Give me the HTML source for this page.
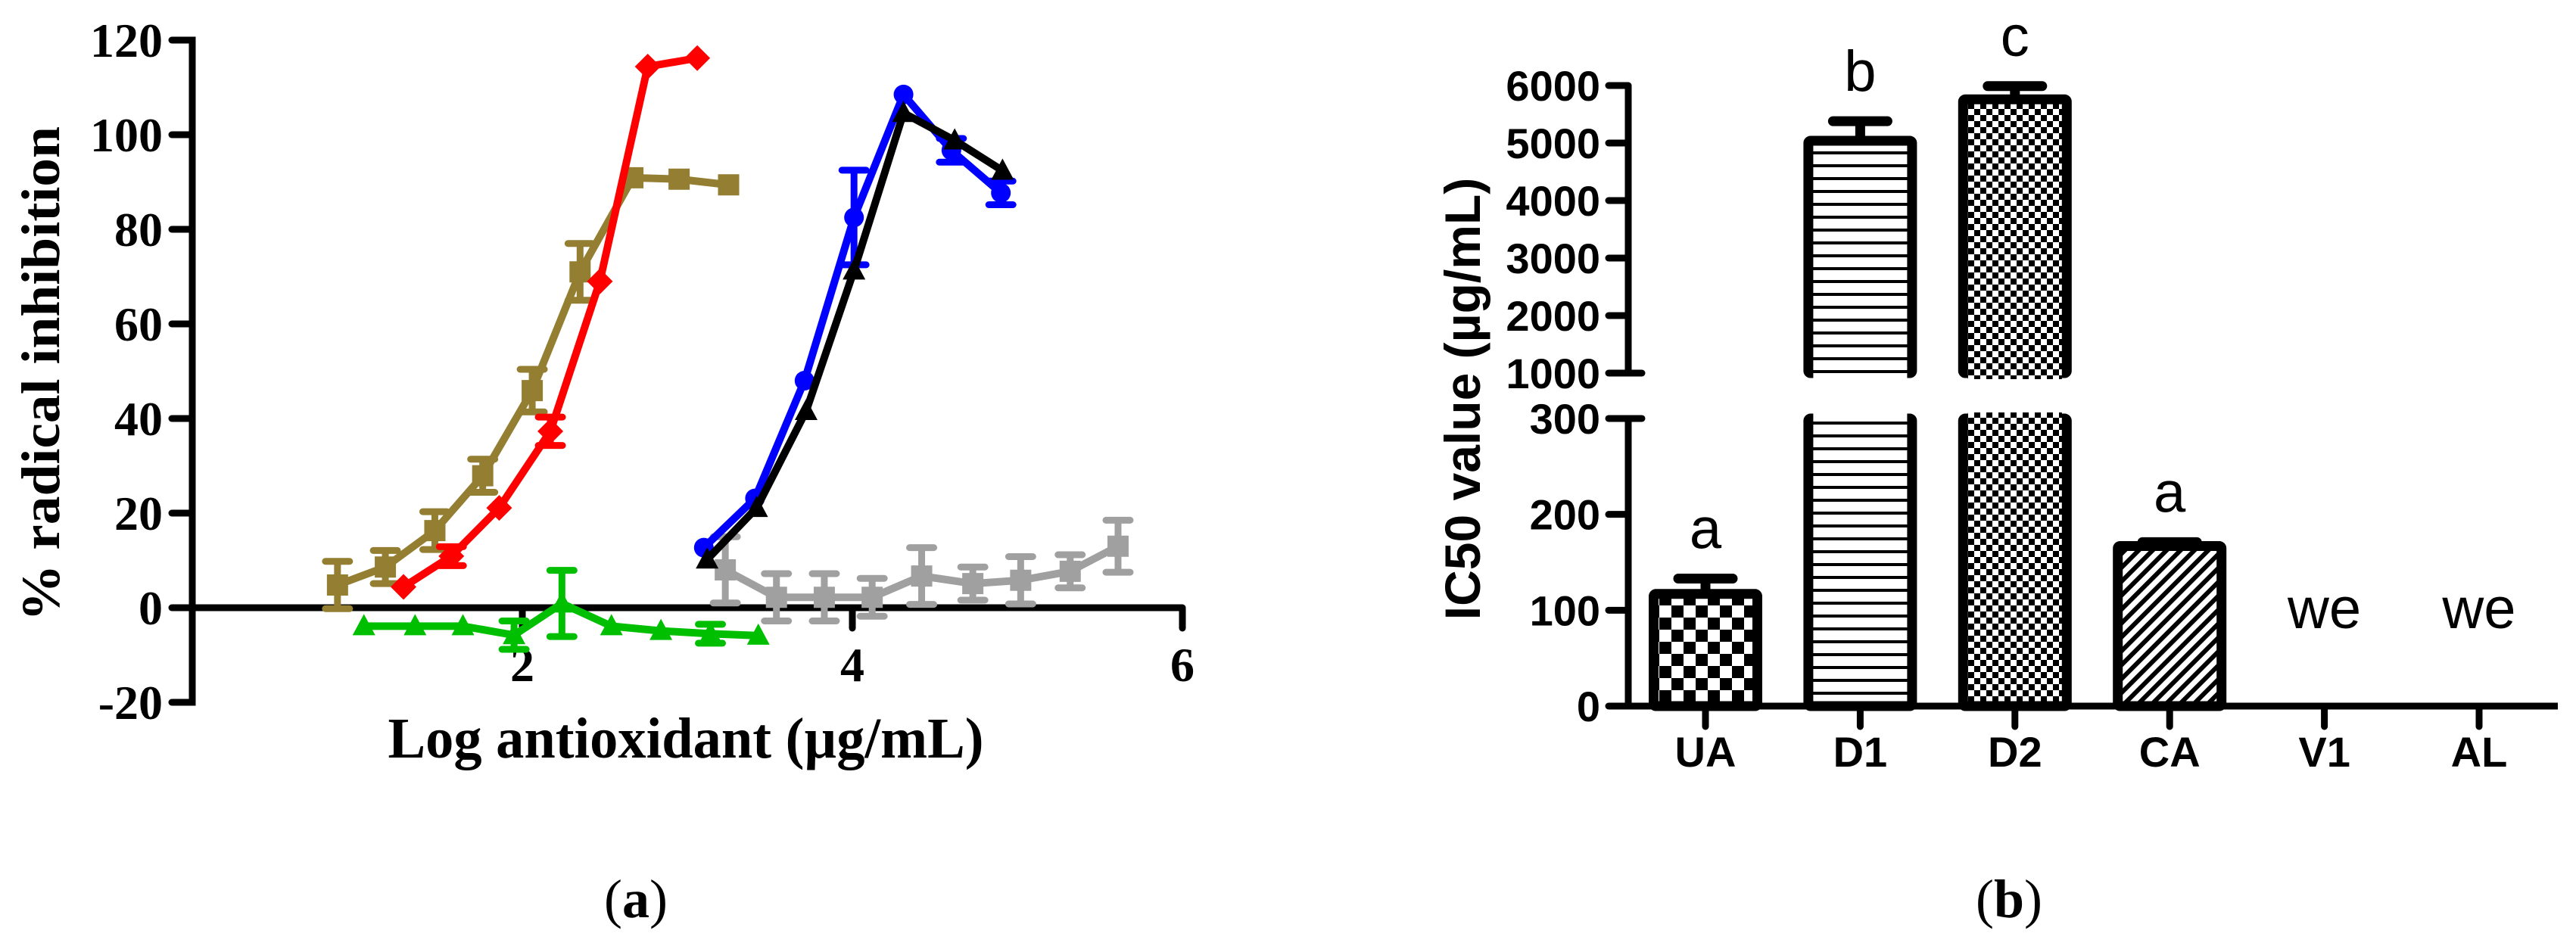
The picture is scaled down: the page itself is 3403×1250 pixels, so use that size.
<!DOCTYPE html>
<html><head><meta charset="utf-8"><style>
html,body{margin:0;padding:0;background:#fff;}
svg{display:block;}
</style></head><body>
<svg id="fig" width="3403" height="1250" viewBox="0 0 3403 1250" xmlns="http://www.w3.org/2000/svg">
<defs>
<pattern id="pChecker" width="32" height="32" patternUnits="userSpaceOnUse"><rect width="32" height="32" fill="#fff"/><rect width="16" height="16" fill="#000"/><rect x="16" y="16" width="16" height="16" fill="#000"/></pattern>
<pattern id="pLines" width="17" height="17" patternUnits="userSpaceOnUse"><rect width="17" height="17" fill="#fff"/><rect y="13" width="17" height="4" fill="#000"/></pattern>
<pattern id="pFine" width="16" height="16" patternUnits="userSpaceOnUse"><rect width="16" height="16" fill="#fff"/><rect width="8" height="8" fill="#000"/><rect x="8" y="8" width="8" height="8" fill="#000"/></pattern>
<pattern id="pDiag" width="13" height="13" patternUnits="userSpaceOnUse" patternTransform="rotate(45)"><rect width="13" height="13" fill="#fff"/><rect width="6" height="13" fill="#000"/></pattern>
</defs>
<g id="left"></g>
<g id="right"></g>
</svg>
<script>
// ---------- Left chart data ----------
const xTicksA = [2, 4, 6];
const yTicksA = [120, 100, 80, 60, 40, 20, 0, -20];
const brownX = [0.88, 1.17, 1.47, 1.76, 2.06, 2.35, 2.67, 2.95, 3.25];
const brownY = [4.8, 8.6, 16.3, 27.9, 45.9, 71, 90.9, 90.6, 89.4];
const brownE = [5, 3.5, 4, 3.5, 4.5, 6, 0, 0, 0];
const redX = [1.28, 1.57, 1.86, 2.17, 2.47, 2.76, 3.06];
const redY = [4.4, 10.9, 21.1, 37.3, 69, 114.4, 116.2];
const redE = [0, 2, 0, 3, 0, 0, 0];
const greenX = [1.04, 1.35, 1.64, 1.95, 2.24, 2.54, 2.84, 3.14, 3.43];
const greenY = [-3.9, -3.9, -3.9, -5.8, 0.9, -3.9, -4.9, -5.5, -5.9];
const greenE = [0, 0, 0, 3, 7, 0, 0, 2, 0];
const blueX = [3.10, 3.41, 3.71, 4.01, 4.31, 4.60, 4.90];
const blueY = [12.7, 23.1, 48, 82.5, 108.5, 96.7, 87.7];
const blueE = [0, 0, 0, 10, 0, 2.5, 2.5];
const blackX = [3.12, 3.42, 3.72, 4.01, 4.31, 4.62, 4.91];
const blackY = [10.2, 21.1, 41.6, 71.3, 104.6, 98.8, 92.4];
const blackE = [0, 0, 0, 0, 0, 0, 0];
const greyX = [3.23, 3.54, 3.83, 4.12, 4.42, 4.73, 5.02, 5.32, 5.61];
const greyY = [8, 2.2, 2.2, 2.2, 6.7, 5.1, 5.8, 7.7, 13];
const greyE = [7, 5, 5, 4, 6, 3.5, 5, 3.5, 5.5];

// ---------- Right chart data ----------
const cats = ["UA", "D1", "D2", "CA", "V1", "AL"];
const ic50 = [117, 5040, 5760, 167, 0, 0];
const ic50Err = [16, 340, 230, 4, 0, 0];
const sigLetters = ["a", "b", "c", "a", "we", "we"];
const lowTicks = [0, 100, 200, 300];
const highTicks = [1000, 2000, 3000, 4000, 5000, 6000];

const NS = "http://www.w3.org/2000/svg";
function mk(parent, tag, attrs, text) {
  const e = document.createElementNS(NS, tag);
  for (const k in attrs) e.setAttribute(k, attrs[k]);
  if (text !== undefined) e.textContent = text;
  parent.appendChild(e);
  return e;
}

// ---------- Left chart ----------
const L = document.getElementById('left');
const xA = v => 254 + 218 * v;
const yA = v => 803 - 6.25 * v;
const serif = '"Liberation Serif", serif';

let ax = mk(L, 'line', {x1: xA(0), y1: yA(120), x2: xA(0), y2: yA(-20), stroke: '#000', 'stroke-width': 9, 'stroke-linecap': 'square'});


ax = mk(L, 'line', {x1: xA(0), y1: yA(0), x2: xA(6), y2: yA(0), stroke: '#000', 'stroke-width': 9});



yTicksA.forEach(t => {
  const tk = mk(L, 'line', {x1: xA(0) - 27, y1: yA(t), x2: xA(0), y2: yA(t), stroke: '#000', 'stroke-width': 9, 'stroke-linecap': 'round'});
  
  
  const lb = mk(L, 'text', {x: 215, y: yA(t) + 22, 'text-anchor': 'end', 'font-family': serif, 'font-weight': 'bold', 'font-size': 64}, String(t));
  
  
});
xTicksA.forEach(t => {
  const tk = mk(L, 'line', {x1: xA(t), y1: yA(0), x2: xA(t), y2: yA(0) + 27, stroke: '#000', 'stroke-width': 9, 'stroke-linecap': 'round'});
  
  
  const lb = mk(L, 'text', {x: xA(t), y: 900, 'text-anchor': 'middle', 'font-family': serif, 'font-weight': 'bold', 'font-size': 64}, String(t));
  
  
});
let tt = mk(L, 'text', {x: 906, y: 1001, 'text-anchor': 'middle', 'font-family': serif, 'font-weight': 'bold', 'font-size': 76, textLength: 787, lengthAdjust: 'spacingAndGlyphs'}, 'Log antioxidant (\u00B5g/mL)');


tt = mk(L, 'text', {x: 0, y: 0, transform: 'translate(78,494) rotate(-90)', 'text-anchor': 'middle', 'font-family': serif, 'font-weight': 'bold', 'font-size': 72, textLength: 654, lengthAdjust: 'spacingAndGlyphs'}, '% radical inhibition');


tt = mk(L, 'text', {x: 840, y: 1212, 'text-anchor': 'middle', 'font-family': serif, 'font-size': 72});


mk(tt, 'tspan', {}, '(');
mk(tt, 'tspan', {'font-weight': 'bold'}, 'a');
mk(tt, 'tspan', {}, ')');

function marker(g, shape, cx, cy, color) {
  let m;
  if (shape === 'square') m = mk(g, 'rect', {x: cx - 14, y: cy - 14, width: 28, height: 28, fill: color});
  else if (shape === 'diamond') m = mk(g, 'polygon', {points: `${cx},${cy-17} ${cx+17},${cy} ${cx},${cy+17} ${cx-17},${cy}`, fill: color});
  else if (shape === 'triangle') m = mk(g, 'polygon', {points: `${cx},${cy-16} ${cx+15},${cy+12} ${cx-15},${cy+12}`, fill: color});
  else m = mk(g, 'circle', {cx: cx, cy: cy, r: 13, fill: color});
  return m;
}
function series(name, xs, ys, es, color, shape) {
  const g = mk(L, 'g', {});
  
  
  const pts = xs.map((x, i) => xA(x) + ',' + yA(ys[i])).join(' ');
  const ln = mk(g, 'polyline', {points: pts, fill: 'none', stroke: color, 'stroke-width': 10, 'stroke-linejoin': 'round'});
  
  
  xs.forEach((x, i) => {
    if (es[i] > 0) {
      const cx = xA(x), y1 = yA(ys[i] + es[i]), y2 = yA(ys[i] - es[i]);
      const eb = mk(g, 'path', {d: `M${cx},${y1}V${y2}M${cx-16},${y1}H${cx+16}M${cx-16},${y2}H${cx+16}`, stroke: color, 'stroke-width': 9, 'stroke-linecap': 'round', fill: 'none'});
      
      
    }
    const m = marker(g, shape, xA(x), yA(ys[i]), color);
    
    
  });
}
series('brown', brownX, brownY, brownE, '#947E32', 'square');
series('green', greenX, greenY, greenE, '#00BF00', 'triangle');
series('grey', greyX, greyY, greyE, '#A0A0A0', 'square');
series('red', redX, redY, redE, '#FF0000', 'diamond');
series('blue', blueX, blueY, blueE, '#0000FF', 'circle');
series('black', blackX, blackY, blackE, '#000000', 'triangle');

// ---------- Right chart ----------
const R = document.getElementById('right');
const sans = '"Liberation Sans", sans-serif';
const axX = 2151;
const xB = i => 2253 + 204.4 * i;
const yLow = v => 933 - 1.2667 * v;          // 0..300
const yHigh = v => 493 - 0.076 * (v - 1000);  // 1000..6000
const yVal = v => v <= 300 ? yLow(v) : yHigh(v);
const fills = ['url(#pChecker)', 'url(#pLines)', 'url(#pFine)', 'url(#pDiag)', '#fff', '#fff'];
const bw = 150;

cats.forEach((c, i) => {
  const v = ic50[i];
  if (v <= 0) return;
  const g = mk(R, 'g', {});
  
  
  const cx = xB(i);
  const e = ic50Err[i];
  const eTop = yVal(v + e);
  const eb = mk(g, 'path', {d: `M${cx},${yVal(v)}V${eTop}M${cx-36},${eTop}H${cx+36}`, stroke: '#000', 'stroke-width': 13, 'stroke-linecap': 'round', fill: 'none'});
  
  
  if (v <= 300) {
    mk(g, 'rect', {x: cx - bw/2 + 6.5, y: yVal(v), width: bw - 13, height: yLow(0) - yVal(v), fill: fills[i], stroke: '#000', 'stroke-width': 13, rx: 3});
  } else {
    mk(g, 'rect', {x: cx - bw/2 + 6.5, y: yHigh(v), width: bw - 13, height: yHigh(1000) - yHigh(v), fill: fills[i], stroke: '#000', 'stroke-width': 13, rx: 3});
    mk(g, 'rect', {x: cx - bw/2 + 6.5, y: yLow(300), width: bw - 13, height: yLow(0) - yLow(300), fill: fills[i], stroke: '#000', 'stroke-width': 13, rx: 3});
    mk(g, 'rect', {x: cx - bw/2 + 13, y: yHigh(1000) - 8, width: bw - 26, height: 16, fill: fills[i]});
    mk(g, 'rect', {x: cx - bw/2 + 13, y: yLow(300) - 8, width: bw - 26, height: 16, fill: fills[i]});
  }
});

let a2 = mk(R, 'path', {d: `M${axX},${yHigh(6000)}V${yHigh(1000)}M${axX},${yLow(300)}V${yLow(0)}`, stroke: '#000', 'stroke-width': 9, fill: 'none'});


a2 = mk(R, 'line', {x1: axX, y1: yLow(0), x2: 3379, y2: yLow(0), stroke: '#000', 'stroke-width': 9});


a2 = mk(R, 'path', {d: `M${axX},${yHigh(1000)}H${axX+18}M${axX},${yLow(300)}H${axX+18}`, stroke: '#000', 'stroke-width': 9, 'stroke-linecap': 'round'});



function yTickB(v, y) {
  const tk = mk(R, 'line', {x1: axX - 26, y1: y, x2: axX, y2: y, stroke: '#000', 'stroke-width': 9, 'stroke-linecap': 'round'});
  
  
  const lb = mk(R, 'text', {x: 2114, y: y + 20, 'text-anchor': 'end', 'font-family': sans, 'font-weight': 'bold', 'font-size': 56}, String(v));
  
  
}
lowTicks.forEach(v => yTickB(v, yLow(v)));
highTicks.forEach(v => yTickB(v, yHigh(v)));

cats.forEach((c, i) => {
  const tk = mk(R, 'line', {x1: xB(i), y1: yLow(0), x2: xB(i), y2: yLow(0) + 27, stroke: '#000', 'stroke-width': 9, 'stroke-linecap': 'round'});
  
  
  const lb = mk(R, 'text', {x: xB(i), y: 1013, 'text-anchor': 'middle', 'font-family': sans, 'font-weight': 'bold', 'font-size': 56}, c);
  
  
  const v = ic50[i], e = ic50Err[i];
  const ly = v > 0 ? yVal(v + e) - 40 : 830;
  const sl = mk(R, 'text', {x: xB(i), y: ly, 'text-anchor': 'middle', 'font-family': sans, 'font-size': 76}, sigLetters[i]);
  
  
});

tt = mk(R, 'text', {x: 0, y: 0, transform: 'translate(1955,527) rotate(-90)', 'text-anchor': 'middle', 'font-family': sans, 'font-weight': 'bold', 'font-size': 66}, 'IC50 value (\u00B5g/mL)');


tt = mk(R, 'text', {x: 2654, y: 1212, 'text-anchor': 'middle', 'font-family': serif, 'font-size': 72});


mk(tt, 'tspan', {}, '(');
mk(tt, 'tspan', {'font-weight': 'bold'}, 'b');
mk(tt, 'tspan', {}, ')');
</script>
</body></html>
